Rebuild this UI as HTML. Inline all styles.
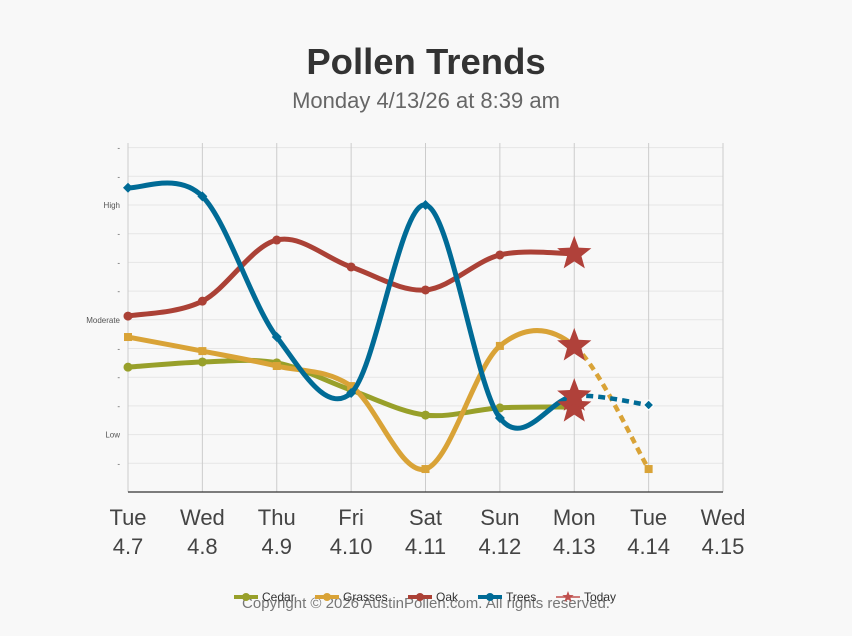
<!DOCTYPE html>
<html><head><meta charset="utf-8"><style>
body{margin:0;background:#f8f8f8;font-family:"Liberation Sans",sans-serif;}
svg{display:block}
</style></head><body>
<svg id="c" width="852" height="636">
<text x="426" y="74" text-anchor="middle" font-size="36.5" font-weight="bold" fill="#333">Pollen Trends</text>
<text x="426" y="108" text-anchor="middle" font-size="22" fill="#666">Monday 4/13/26 at 8:39 am</text>
<g id="grid"></g><g id="series"></g><g id="xl"></g>
<text x="426" y="608" text-anchor="middle" font-size="15" fill="#777">Copyright © 2026 AustinPollen.com.  All rights reserved.</text>
<g id="legend"></g>
</svg>
<script>
const days=["Tue","Wed","Thu","Fri","Sat","Sun","Mon","Tue","Wed"];
const dates=["4.7","4.8","4.9","4.10","4.11","4.12","4.13","4.14","4.15"];
const yLabels=["","","Low","","","","Moderate","","","","High","",""];
const cedar=[4.35,4.53,4.5,3.55,2.68,2.93,2.96];
const grasses=[5.4,4.91,4.39,3.69,0.8,5.09,5.09,0.8];
const oak=[6.13,6.65,8.78,7.84,7.04,8.26,8.3];
const trees=[10.6,10.3,5.4,3.45,10.0,2.58,3.34,3.03];
const todayIndex=6;
const todayColor="#b0413a";
const NS="http://www.w3.org/2000/svg";
const X=i=>128+i*74.375, Y=v=>492-v*28.7;
function mk(t,a,p){const e=document.createElementNS(NS,t);for(const k in a)e.setAttribute(k,a[k]);(p||document.getElementById('c')).appendChild(e);return e;}
const g=document.getElementById('grid');
for(let v=1;v<=12;v++){
 const l=mk('line',{x1:128,x2:723,y1:Y(v),y2:Y(v),stroke:'#e6e6e6','stroke-width':1},g);
 
 
 const t=mk('text',{x:120,y:Y(v)+3,'text-anchor':'end','font-size':8,fill:'#555'},g);
 t.textContent=yLabels[v]||'-';
 
 
}
days.forEach((d,i)=>{
 const l=mk('line',{x1:X(i),x2:X(i),y1:143,y2:492,stroke:'#ccc','stroke-width':1},g);
 
 
 const t=mk('text',{x:X(i),y:525,'text-anchor':'middle','font-size':22,fill:'#444'},document.getElementById('xl'));
 t.innerHTML=d+'<tspan x="'+X(i)+'" dy="29">'+dates[i]+'</tspan>';
 
 
});
const ax=mk('line',{x1:128,x2:723,y1:492,y2:492,stroke:'#333','stroke-width':1.2},g);


function seg(p,i){const p0=p[Math.max(i-1,0)],p1=p[i],p2=p[i+1],p3=p[Math.min(i+2,p.length-1)];
 return `C${p1[0]+(p2[0]-p0[0])/6},${p1[1]+(p2[1]-p0[1])/6} ${p2[0]-(p3[0]-p1[0])/6},${p2[1]-(p3[1]-p1[1])/6} ${p2[0]},${p2[1]}`;}
const S=document.getElementById('series');
function star(cx,cy,r,col,p){let d='';for(let k=0;k<10;k++){const rr=k%2?r*0.42:r,a=-Math.PI/2+k*Math.PI/5;d+=(k?'L':'M')+(cx+rr*Math.cos(a))+','+(cy+rr*Math.sin(a));}
 return mk('path',{d:d+'Z',fill:col},p);}
const stars=[];
function series(name,vals,col,marker){
 const p=vals.map((v,i)=>[X(i),Y(v)]);
 const last=Math.min(todayIndex,p.length-1);
 let d='M'+p[0][0]+','+p[0][1];for(let i=0;i<last;i++)d+=seg(p,i);
 const path=mk('path',{d,fill:'none',stroke:col,'stroke-width':5,'stroke-linecap':'round'},S);
 
 
 if(p.length>todayIndex+1){
  const dp=mk('path',{d:'M'+p[todayIndex][0]+','+p[todayIndex][1]+seg(p,todayIndex),fill:'none',stroke:col,'stroke-width':4.5,'stroke-dasharray':'7,5'},S);
  
  
 }
 p.forEach((q,i)=>{
  let m;
  if(i===todayIndex){stars.push([q,name]);return;}
  else if(marker==='d'){m=mk('path',{d:`M${q[0]},${q[1]-5}L${q[0]+5},${q[1]}L${q[0]},${q[1]+5}L${q[0]-5},${q[1]}Z`,fill:col,stroke:i>todayIndex?'#fff':'none'},S);}
  else if(marker==='s'){m=mk('rect',{x:q[0]-4,y:q[1]-4,width:8,height:8,fill:col},S);}
  else{m=mk('circle',{cx:q[0],cy:q[1],r:4.5,fill:col},S);}
  
  
 });
}
series('cedar',cedar,'#98a02a','c');
series('grasses',grasses,'#d9a337','s');
series('oak',oak,'#ab4136','c');
series('trees',trees,'#006b96','d');
stars.forEach(([q,name])=>{
 const m=star(q[0],q[1],18,todayColor,S);
 
 
});
const L=document.getElementById('legend');
[['Cedar','#98a02a',234],['Grasses','#d9a337',315],['Oak','#ab4136',408],['Trees','#006b96',478],['Today','#c0504d',556]].forEach(([n,c,x])=>{
 const gg=mk('g',{},L);
 
 
 mk('line',{x1:x,x2:x+24,y1:597,y2:597,stroke:c,'stroke-width':n==='Today'?1.5:4},gg);
 if(n==='Today')star(x+12,597,6,c,gg);else mk('circle',{cx:x+12,cy:597,r:4,fill:c},gg);
 const t=mk('text',{x:x+28,y:601,'font-size':12,fill:'#333'},gg);t.textContent=n;
});
</script>
</body></html>
